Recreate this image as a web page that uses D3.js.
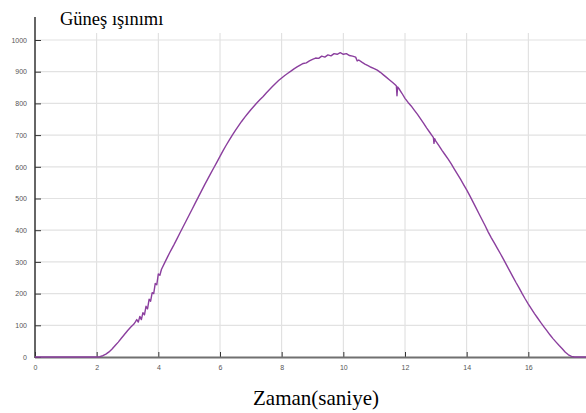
<!DOCTYPE html>
<html><head><meta charset="utf-8">
<script src="https://cdn.jsdelivr.net/npm/d3@7"></script>
<style>body{margin:0;background:#fff}svg{display:block}</style>
</head><body><svg id="c" width="586" height="413"></svg>
<script>
const title = "Güneş ışınımı";
const xLabel = "Zaman(saniye)";
const xTicks = [0, 2, 4, 6, 8, 10, 12, 14, 16];
const yTicks = [0, 100, 200, 300, 400, 500, 600, 700, 800, 900, 1000];
const times = [0, 2.0, 2.1, 2.2, 2.3, 2.4, 2.5, 2.6, 2.7, 2.8, 2.9, 3.0, 3.1, 3.2, 3.25, 3.3, 3.35, 3.4, 3.45, 3.5, 3.55, 3.6, 3.65, 3.7, 3.75, 3.8, 3.85, 3.9, 3.95, 4.0, 4.05, 4.1, 4.2, 4.3, 4.4, 4.5, 4.6, 4.7, 4.8, 4.9, 5.0, 5.1, 5.2, 5.3, 5.4, 5.5, 5.6, 5.7, 5.8, 5.9, 6.0, 6.1, 6.2, 6.3, 6.4, 6.5, 6.6, 6.7, 6.8, 6.9, 7.0, 7.1, 7.2, 7.3, 7.4, 7.5, 7.6, 7.7, 7.8, 7.9, 8.0, 8.1, 8.2, 8.3, 8.4, 8.5, 8.6, 8.7, 8.8, 8.9, 9.0, 9.1, 9.2, 9.3, 9.4, 9.5, 9.6, 9.7, 9.8, 9.9, 10.0, 10.1, 10.2, 10.3, 10.4, 10.45, 10.5, 10.6, 10.7, 10.8, 10.9, 11.0, 11.1, 11.2, 11.3, 11.4, 11.5, 11.6, 11.7, 11.72, 11.74, 11.76, 11.8, 11.9, 12.0, 12.1, 12.2, 12.3, 12.4, 12.5, 12.6, 12.7, 12.8, 12.9, 12.92, 12.94, 12.96, 13.0, 13.1, 13.2, 13.3, 13.4, 13.5, 13.6, 13.7, 13.8, 13.9, 14.0, 14.1, 14.2, 14.3, 14.4, 14.5, 14.6, 14.7, 14.8, 14.9, 15.0, 15.1, 15.2, 15.3, 15.4, 15.5, 15.6, 15.7, 15.8, 15.9, 16.0, 16.1, 16.2, 16.3, 16.4, 16.5, 16.6, 16.7, 16.8, 16.9, 17.0, 17.1, 17.2, 17.3, 17.4, 17.5, 17.9];
const irradiance = [0, 0, 1, 4, 9, 16, 25, 36, 47, 59, 71, 83, 94, 103, 110, 118, 110, 128, 118, 140, 133, 160, 152, 182, 176, 203, 200, 232, 228, 262, 258, 276, 296, 316, 335, 353, 372, 391, 410, 429, 448, 467, 486, 505, 524, 543, 561, 579, 597, 615, 633, 651, 668, 684, 700, 715, 729, 743, 756, 768, 780, 791, 802, 812, 822, 833, 843, 853, 863, 872, 880, 888, 895, 902, 909, 915, 921, 926, 928, 934, 939, 943, 942, 949, 946, 953, 950, 957, 955, 960, 955, 957, 951, 949, 946, 934, 937, 930, 924, 919, 914, 910, 905, 898, 890, 882, 874, 866, 857, 855, 824, 852, 847, 832, 816, 803, 792, 779, 766, 752, 738, 723, 709, 695, 693, 674, 689, 681, 667, 652, 638, 624, 609, 593, 577, 561, 544, 527, 509, 490, 471, 452, 433, 414, 394, 376, 359, 342, 325, 307, 289, 271, 253, 235, 218, 200, 183, 167, 152, 137, 123, 109, 96, 83, 70, 58, 47, 36, 26, 15, 7, 2, 0, 0];

const svg = d3.select("#c");
const x = d3.scaleLinear().domain([0, 18]).range([35, 590]);
const y = d3.scaleLinear().domain([0, 1000]).range([357, 40]);
const gridTop = 33;

// grid
const g = svg.append("g");
g.selectAll(".vg").data(xTicks.filter(d => d > 0)).join("line")
  .attr("x1", d => x(d)).attr("x2", d => x(d)).attr("y1", gridTop).attr("y2", 357)
  .attr("stroke", "#dcdcdc").attr("stroke-width", 1);
g.selectAll(".hg").data(yTicks.filter(d => d > 0)).join("line")
  .attr("x1", 35).attr("x2", 586).attr("y1", d => y(d)).attr("y2", d => y(d))
  .attr("stroke", "#e2e2e2").attr("stroke-width", 1.2);

// x axis
const xa = svg.append("g").attr("transform", "translate(0,357)")
  .call(d3.axisBottom(x).tickValues(xTicks).tickSize(-5).tickPadding(8).tickFormat(d3.format("d")));
xa.select(".domain").remove();
xa.selectAll(".tick line").attr("stroke", "#333").attr("stroke-width", 1);
xa.selectAll(".tick text").attr("fill", "#555").attr("font-family", "Liberation Sans, Arial, sans-serif").attr("font-size", 7);
svg.append("line").attr("x1", 35).attr("x2", 586).attr("y1", 357.5).attr("y2", 357.5)
  .attr("stroke", "#707070").attr("stroke-width", 2);

// y axis
const ya = svg.append("g").attr("transform", "translate(35,0)")
  .call(d3.axisLeft(y).tickValues(yTicks).tickSize(-6).tickPadding(8).tickFormat(d3.format("d")));
ya.select(".domain").remove();
ya.selectAll(".tick line").attr("stroke", "#333").attr("stroke-width", 1);
ya.selectAll(".tick text").attr("fill", "#555").attr("font-family", "Liberation Sans, Arial, sans-serif").attr("font-size", 7);
svg.append("line").attr("x1", 35).attr("x2", 35).attr("y1", 17).attr("y2", 358)
  .attr("stroke", "#333").attr("stroke-width", 1.5);

// line
const data = times.map((t, i) => [t, irradiance[i]]);
svg.append("path").datum(data)
  .attr("fill", "none").attr("stroke", "#8b3f9e").attr("stroke-width", 1.4)
  .attr("stroke-linejoin", "round")
  .attr("d", d3.line().x(d => x(d[0])).y(d => y(d[1])));

// titles
svg.append("text").attr("x", 60).attr("y", 25).text(title)
  .attr("font-family", "Liberation Serif, Times New Roman, serif").attr("font-size", 18.5).attr("fill", "#000");
svg.append("text").attr("x", 316).attr("y", 405).attr("text-anchor", "middle").text(xLabel)
  .attr("font-family", "Liberation Serif, Times New Roman, serif").attr("font-size", 21).attr("fill", "#000");
</script></body></html>
